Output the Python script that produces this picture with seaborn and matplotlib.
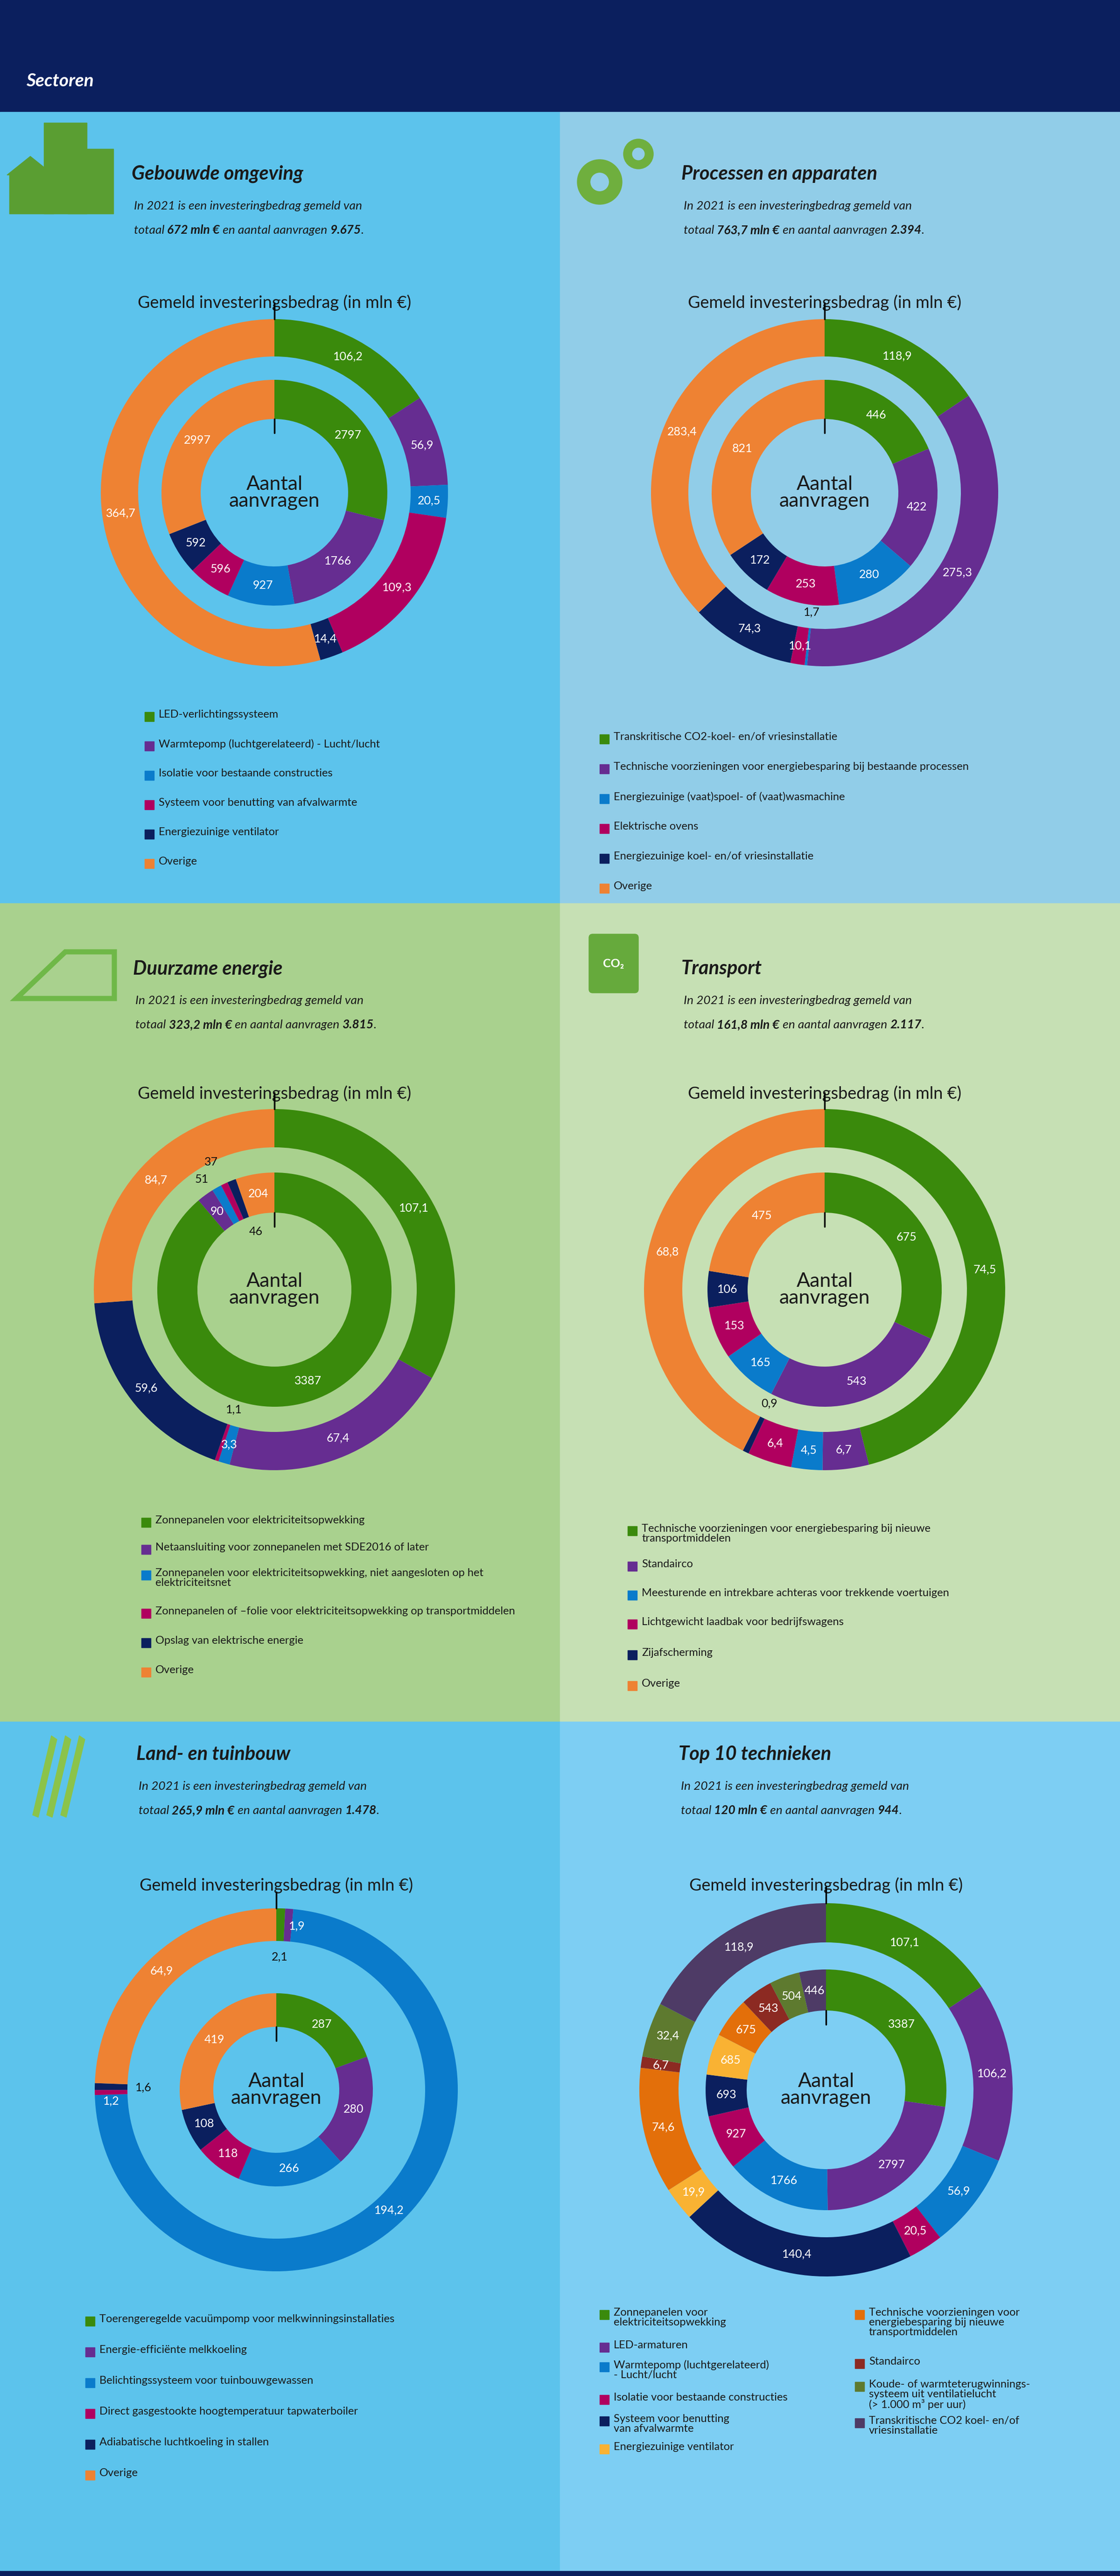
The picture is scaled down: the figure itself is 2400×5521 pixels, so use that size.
import matplotlib
matplotlib.use("Agg")
import matplotlib.pyplot as plt
import seaborn as sns
from matplotlib.patches import Rectangle, Polygon, Circle, FancyBboxPatch
import numpy as np

sns.set_theme(style="white")
plt.rcParams['font.family'] = ['Lato', 'DejaVu Sans']

# ---------------- data ----------------
geb_labels = ["LED-verlichtingssysteem", "Warmtepomp (luchtgerelateerd) - Lucht/lucht",
              "Isolatie voor bestaande constructies", "Systeem voor benutting van afvalwarmte",
              "Energiezuinige ventilator", "Overige"]
geb_bedrag = [106.2, 56.9, 20.5, 109.3, 14.4, 364.7]
geb_aanvr = [2797, 1766, 927, 596, 592, 2997]

pro_labels = ["Transkritische CO2-koel- en/of vriesinstallatie",
              "Technische voorzieningen voor energiebesparing bij bestaande processen",
              "Energiezuinige (vaat)spoel- of (vaat)wasmachine", "Elektrische ovens",
              "Energiezuinige koel- en/of vriesinstallatie", "Overige"]
pro_bedrag = [118.9, 275.3, 1.7, 10.1, 74.3, 283.4]
pro_aanvr = [446, 422, 280, 253, 172, 821]

dur_labels = ["Zonnepanelen voor elektriciteitsopwekking",
              "Netaansluiting voor zonnepanelen met SDE2016 of later",
              "Zonnepanelen voor elektriciteitsopwekking, niet aangesloten op het\nelektriciteitsnet",
              "Zonnepanelen of –folie voor elektriciteitsopwekking op transportmiddelen",
              "Opslag van elektrische energie", "Overige"]
dur_bedrag = [107.1, 67.4, 3.3, 1.1, 59.6, 84.7]
dur_aanvr = [3387, 90, 51, 37, 46, 204]

tra_labels = ["Technische voorzieningen voor energiebesparing bij nieuwe\ntransportmiddelen",
              "Standairco", "Meesturende en intrekbare achteras voor trekkende voertuigen",
              "Lichtgewicht laadbak voor bedrijfswagens", "Zijafscherming", "Overige"]
tra_bedrag = [74.5, 6.7, 4.5, 6.4, 0.9, 68.8]
tra_aanvr = [675, 543, 165, 153, 106, 475]

lan_labels = ["Toerengeregelde vacuümpomp voor melkwinningsinstallaties",
              "Energie-efficiënte melkkoeling", "Belichtingssysteem voor tuinbouwgewassen",
              "Direct gasgestookte hoogtemperatuur tapwaterboiler",
              "Adiabatische luchtkoeling in stallen", "Overige"]
lan_bedrag = [2.1, 1.9, 194.2, 1.2, 1.6, 64.9]
lan_aanvr = [287, 280, 266, 118, 108, 419]

top_labels = ["Zonnepanelen voor\nelektriciteitsopwekking", "LED-armaturen",
              "Warmtepomp (luchtgerelateerd)\n- Lucht/lucht", "Isolatie voor bestaande constructies",
              "Systeem voor benutting\nvan afvalwarmte", "Energiezuinige ventilator",
              "Technische voorzieningen voor\nenergiebesparing bij nieuwe\ntransportmiddelen",
              "Standairco", "Koude- of warmteterugwinnings-\nsysteem uit ventilatielucht\n(> 1.000 m³ per uur)",
              "Transkritische CO2 koel- en/of\nvriesinstallatie"]
top_bedrag = [107.1, 106.2, 56.9, 20.5, 140.4, 19.9, 74.6, 6.7, 32.4, 118.9]
top_aanvr = [3387, 2797, 1766, 927, 693, 685, 675, 543, 504, 446]

titles = ["Gebouwde omgeving", "Processen en apparaten", "Duurzame energie",
          "Transport", "Land- en tuinbouw", "Top 10 technieken"]
tot_bedrag = ["672", "763,7", "323,2", "161,8", "265,9", "120"]
tot_aanvr = ["9.675", "2.394", "3.815", "2.117", "1.478", "944"]

# ---------------- style ----------------
C6 = ["#3A8A0C", "#662D91", "#0A7BCB", "#B0005F", "#0B1F5E", "#EE8233"]
C10 = ["#3A8A0C", "#662D91", "#0A7BCB", "#B0005F", "#0B1F5E", "#F9B233",
       "#E36F0A", "#8C2A22", "#5E7A2F", "#4E3B66"]
NAVY = "#0B1F5E"
W, H = 2400, 5521

fig = plt.figure(figsize=(W / 100, H / 100), dpi=100)
ax = fig.add_axes([0, 0, 1, 1])
renderer = fig.canvas.get_renderer()

def fmt(v):
    return (f"{v:.1f}".replace(".", ",")) if isinstance(v, float) else str(v)

# backgrounds
ax.add_patch(Rectangle((0, 0), W, 240, color=NAVY, zorder=0))
ax.add_patch(Rectangle((0, 5509), W, 12, color=NAVY, zorder=0))
bgs = [("#5CC3EC", 0, 240, 1936), ("#91CDE8", 1200, 240, 1936),
       ("#A9D18E", 0, 1936, 3690), ("#C6E0B4", 1200, 1936, 3690),
       ("#5CC3EC", 0, 3690, 5509), ("#7DCEF3", 1200, 3690, 5509)]
for c, x0, y0, y1 in bgs:
    ax.add_patch(Rectangle((x0, y0), 1200, y1 - y0, color=c, zorder=0))
ax.text(56, 185, "Sectoren", color="white", fontsize=28, fontweight="bold", style="italic", va="baseline")

def donut(cx, cy, vals, colors, R, w, fs=18, thr=0.012, outside=1, over=None):
    over = over or {}
    ax.pie(vals, colors=colors, radius=R, center=(cx, cy), startangle=-90, counterclock=True,
           wedgeprops=dict(width=w, linewidth=0), frame=True)
    tot = float(sum(vals))
    cum = 0.0
    for i, v in enumerate(vals):
        f = v / tot
        mid = -90 + (cum + f / 2) * 360
        cum += f
        mode = "gap" if f < thr else "ring"
        dang, dr = 0, 0
        if i in over:
            mode, dang, dr = over[i]
        if mode == "gap":
            mode = "out" if outside > 0 else "in"
        if mode == "ring":
            r, col = R - w / 2, "white"
        elif mode == "out":
            r, col = R + 32, "#111111"
        else:
            r, col = R - w - 34, "#111111"
        r += dr
        th = np.deg2rad(mid + dang)
        ax.text(cx + r * np.cos(th), cy + r * np.sin(th), fmt(v), ha="center", va="center",
                fontsize=fs, color=col, zorder=5)

def panel(i, tx, ty, cx, cy, ctitle_y, bedrag, aanvr, colors, Ro, wo, Ri, wi, oo=None, io=None):
    ax.text(tx, ty, titles[i], fontsize=30, fontweight="bold", style="italic", color="#1a1a1a", va="baseline")
    ax.text(tx + 5, ty + 64, "In 2021 is een investeringbedrag gemeld van", fontsize=19,
            style="italic", color="#1a1a1a", va="baseline")
    x = tx + 5
    parts = [("totaal ", "normal"), (tot_bedrag[i] + " mln €", "bold"), (" en aantal aanvragen ", "normal"),
             (tot_aanvr[i], "bold"), (".", "normal")]
    for s, wgt in parts:
        t = ax.text(x, ty + 116, s, fontsize=19, style="italic", fontweight=wgt, color="#1a1a1a", va="baseline")
        x += t.get_window_extent(renderer=renderer).width
    ax.text(cx, ctitle_y, "Gemeld investeringsbedrag (in mln €)", fontsize=26, ha="center",
            va="baseline", color="#1a1a1a")
    donut(cx, cy, bedrag, colors, Ro, wo, thr=0.008, outside=-1, over=oo)
    donut(cx, cy, aanvr, colors, Ri, wi, thr=0.012, outside=1, over=io)
    ax.text(cx, cy, "Aantal\naanvragen", fontsize=31, ha="center", va="center", color="#1a1a1a",
            linespacing=0.95)
    ax.plot([cx, cx], [cy - Ro - 35, cy - Ro], color="black", lw=2.5, zorder=6)
    ax.plot([cx, cx], [cy - Ri + wi, cy - Ri + wi + 30], color="black", lw=2.5, zorder=6)

def legend(x, ys, labels, colors, fs=17):
    for y, lab, c in zip(ys, labels, colors):
        ax.add_patch(Rectangle((x, y - 9), 20, 20, color=c, zorder=5))
        ax.text(x + 30, y - 14, lab, fontsize=fs, color="#1a1a1a", va="top", linespacing=1.0)

panel(0, 282, 385, 588, 1056, 660, geb_bedrag, geb_aanvr, C6, 372, 80, 242, 84)
legend(310, [1535 + 63 * k for k in range(6)], geb_labels, C6)
panel(1, 1460, 385, 1767, 1056, 660, pro_bedrag, pro_aanvr, C6, 372, 80, 242, 84)
legend(1285, [1583 + 64 * k for k in range(6)], pro_labels, C6)
panel(2, 285, 2088, 588, 2764, 2355, dur_bedrag, dur_aanvr, C6, 387, 82, 251, 86,
      io={1: ("ring", 0, 0), 2: ("out", -4, 0), 3: ("out", -1, 22), 4: ("in", 4, 0)})
legend(303, [3262, 3320, 3375, 3457, 3520, 3583], dur_labels, C6)
panel(3, 1460, 2088, 1767, 2764, 2355, tra_bedrag, tra_aanvr, C6, 387, 82, 251, 86)
legend(1345, [3280, 3356, 3418, 3480, 3546, 3612], tra_labels, C6)
panel(4, 292, 3772, 592, 4479, 4052, lan_bedrag, lan_aanvr, C6, 389, 70, 207, 72,
      oo={0: ("in", 0, 0), 1: ("ring", 3, 0), 3: ("ring", -3, 0), 4: ("in", 0, 0)})
legend(183, [4974 + 66 * k for k in range(6)], lan_labels, C6)
panel(5, 1454, 3772, 1770, 4479, 4052, top_bedrag, top_aanvr, C10, 400, 84, 258, 88)
legend(1285, [4960, 5030, 5072, 5142, 5188, 5248], top_labels[:6], C10[:6])
legend(1832, [4960, 5065, 5114, 5192], top_labels[6:], C10[6:])

# simple icons
ic = "#5A9E32"
ax.add_patch(Rectangle((94, 263), 92, 195, color=ic))
ax.add_patch(Rectangle((145, 319), 98, 139, color=ic))
ax.add_patch(Rectangle((20, 372), 95, 86, color=ic))
ax.add_patch(Polygon([[15, 375], [65, 335], [115, 375]], closed=True, color=ic))
for (gx, gy, gr) in [(1285, 390, 48), (1368, 330, 32)]:
    ax.add_patch(Circle((gx, gy), gr, color="#6FAF3E"))
    ax.add_patch(Circle((gx, gy), gr * 0.4, color="#91CDE8"))
ax.add_patch(Polygon([[35, 2140], [140, 2040], [245, 2040], [245, 2140]], closed=True,
                     fc="none", ec="#6FB848", lw=8))
ax.add_patch(FancyBboxPatch((1270, 2010), 90, 110, boxstyle="round,pad=8", color="#66AA3C"))
ax.text(1315, 2065, "CO₂", color="white", fontsize=18, fontweight="bold", ha="center", va="center")
for k in range(3):
    ax.add_patch(Polygon([[70 + 30 * k, 3890], [110 + 30 * k, 3720], [122 + 30 * k, 3728], [82 + 30 * k, 3895]],
                         closed=True, color="#8BC34A"))

ax.set_xlim(0, W)
ax.set_ylim(H, 0)
ax.set_aspect("auto")
ax.axis("off")
fig.savefig("out.png", dpi=100)
